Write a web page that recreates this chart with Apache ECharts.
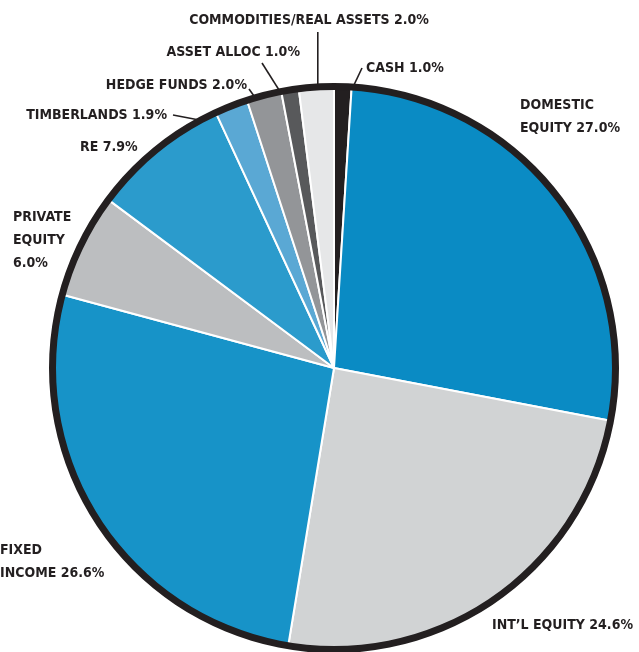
<!DOCTYPE html>
<html><head><meta charset="utf-8">
<script src="https://cdn.jsdelivr.net/npm/echarts@6/dist/echarts.min.js"></script>
<style>html,body{margin:0;padding:0;background:#fff}#c{width:639px;height:652px}</style>
</head><body><div id="c"></div>
<script>
const categories = ['CASH', 'DOMESTIC EQUITY', 'INT\u2019L EQUITY', 'FIXED INCOME', 'PRIVATE EQUITY', 'RE', 'TIMBERLANDS', 'HEDGE FUNDS', 'ASSET ALLOC', 'COMMODITIES/REAL ASSETS'];
const values = [1.0, 27.0, 24.6, 26.6, 6.0, 7.9, 1.9, 2.0, 1.0, 2.0];
const labelNames = ['CASH', 'DOMESTIC\nEQUITY', 'INT\u2019L EQUITY', 'FIXED\nINCOME', 'PRIVATE\nEQUITY\n', 'RE', 'TIMBERLANDS', 'HEDGE FUNDS', 'ASSET ALLOC', 'COMMODITIES/REAL ASSETS'];
const colors = ['#231f20', '#0a8bc4', '#d1d3d4', '#1793c8', '#bcbec0', '#2b9bcc', '#5aa8d4', '#939598', '#58595b', '#e6e7e8'];

// label placement (layout only)
const place = [
  {x: 366, y: 57, align: 'left', end: [362, 68]},
  {x: 520, y: 94, align: 'left'},
  {x: 492, y: 614, align: 'left'},
  {x: 0, y: 539, align: 'left'},
  {x: 13, y: 206, align: 'left'},
  {x: 80, y: 136, align: 'left'},
  {x: 167, y: 104, align: 'right', end: [173, 115]},
  {x: 247, y: 74, align: 'right', end: [249, 89]},
  {x: 300, y: 41, align: 'right', end: [262, 63]},
  {x: 309, y: 9, align: 'center', end: [null, 32]}
];
const withLine = [true, false, false, false, false, false, true, true, true, true];

const FONT = "'Liberation Sans Narrow', 'DejaVu Sans Condensed', 'Roboto Condensed', sans-serif";
const CENTER = [334, 368];

const chart = echarts.init(document.getElementById('c'), null, {renderer: 'canvas'});
const pieData = categories.map((n, i) => ({name: n, value: values[i], itemStyle: {color: colors[i]}}));
const labelData = categories.map((n, i) => ({
  name: n, value: values[i],
  labelLine: {show: withLine[i]}
}));

chart.setOption({
  animation: false,
  series: [
    {
      type: 'pie', center: CENTER, radius: [0, 280], startAngle: 90, clockwise: true,
      silent: true, label: {show: false}, labelLine: {show: false},
      itemStyle: {borderColor: '#ffffff', borderWidth: 2},
      emphasis: {disabled: true},
      data: pieData
    },
    {
      type: 'pie', center: CENTER, radius: [278, 285], silent: true,
      label: {show: false}, labelLine: {show: false},
      itemStyle: {color: '#231f20', borderWidth: 0},
      emphasis: {disabled: true},
      data: [{value: 1, name: 'ring'}]
    },
    {
      type: 'pie', center: CENTER, radius: [0, 258], startAngle: 90, clockwise: true,
      silent: true, avoidLabelOverlap: false,
      itemStyle: {color: 'rgba(0,0,0,0)', borderWidth: 0},
      emphasis: {disabled: true},
      label: {
        show: true, position: 'outside',
        color: '#231f20', fontFamily: FONT, fontWeight: 'bold', fontSize: 14, lineHeight: 23,
        formatter: p => {
          const n = labelNames[p.dataIndex];
          const v = values[p.dataIndex].toFixed(1) + '%';
          return n.endsWith('\n') ? n + v : n + ' ' + v;
        }
      },
      labelLine: {show: false, lineStyle: {color: '#231f20', width: 1.6}},
      labelLayout: function (p) {
        const c = place[p.dataIndex];
        const r = {x: c.x, y: c.y, align: c.align, verticalAlign: 'top'};
        if (c.end && p.labelLinePoints && p.labelLinePoints.length) {
          const s = p.labelLinePoints[0];
          r.labelLinePoints = [[s[0], s[1]], [c.end[0] == null ? s[0] : c.end[0], c.end[1]]];
        }
        return r;
      },
      data: labelData
    }
  ]
});
</script>
</body></html>
